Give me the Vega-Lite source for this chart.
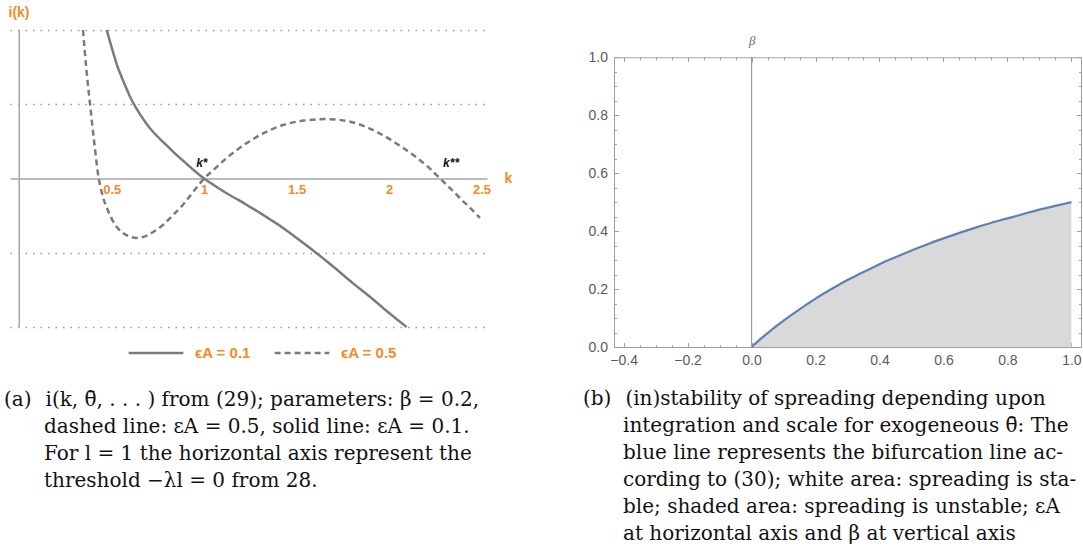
{
  "$schema": "https://vega.github.io/schema/vega-lite/v6.json",
  "background": "white",
  "padding": {"left": 4, "top": 5, "right": 0, "bottom": 0},
  "bounds": "flush",
  "spacing": 127,
  "config": {"view": {"stroke": null}},
  "hconcat": [
    {
      "width": 477,
      "height": 297,
      "title": {
        "text": [
          "(a)\u2002\u2009i(k, θ̄, . . . ) from (29); parameters: β = 0.2,",
          "\u200b\u2003\u2003dashed line: εA = 0.5, solid line: εA = 0.1.",
          "\u200b\u2003\u2003For l = 1 the horizontal axis represent the",
          "\u200b\u2003\u2003threshold −λl = 0 from 28."
        ],
        "orient": "bottom",
        "anchor": "start",
        "frame": "group",
        "dx": -6,
        "offset": 58,
        "baseline": "top",
        "font": "DejaVu Serif",
        "fontSize": 20,
        "fontWeight": "normal",
        "color": "#111111",
        "lineHeight": 27
      },
      "layer": [
        {
          "data": {"values": [
            {"k": 0.473, "i": 2.0, "s": "ϵA = 0.1"},
            {"k": 0.49, "i": 1.85, "s": "ϵA = 0.1"},
            {"k": 0.51, "i": 1.68, "s": "ϵA = 0.1"},
            {"k": 0.53, "i": 1.52, "s": "ϵA = 0.1"},
            {"k": 0.55, "i": 1.39, "s": "ϵA = 0.1"},
            {"k": 0.575, "i": 1.24, "s": "ϵA = 0.1"},
            {"k": 0.6, "i": 1.1, "s": "ϵA = 0.1"},
            {"k": 0.63, "i": 0.96, "s": "ϵA = 0.1"},
            {"k": 0.66, "i": 0.84, "s": "ϵA = 0.1"},
            {"k": 0.7, "i": 0.7, "s": "ϵA = 0.1"},
            {"k": 0.75, "i": 0.56, "s": "ϵA = 0.1"},
            {"k": 0.8, "i": 0.44, "s": "ϵA = 0.1"},
            {"k": 0.85, "i": 0.32, "s": "ϵA = 0.1"},
            {"k": 0.9, "i": 0.21, "s": "ϵA = 0.1"},
            {"k": 0.95, "i": 0.1, "s": "ϵA = 0.1"},
            {"k": 1.0, "i": 0.0, "s": "ϵA = 0.1"},
            {"k": 1.05, "i": -0.085, "s": "ϵA = 0.1"},
            {"k": 1.1, "i": -0.165, "s": "ϵA = 0.1"},
            {"k": 1.15, "i": -0.24, "s": "ϵA = 0.1"},
            {"k": 1.2, "i": -0.31, "s": "ϵA = 0.1"},
            {"k": 1.25, "i": -0.385, "s": "ϵA = 0.1"},
            {"k": 1.3, "i": -0.46, "s": "ϵA = 0.1"},
            {"k": 1.35, "i": -0.54, "s": "ϵA = 0.1"},
            {"k": 1.4, "i": -0.62, "s": "ϵA = 0.1"},
            {"k": 1.5, "i": -0.8, "s": "ϵA = 0.1"},
            {"k": 1.6, "i": -0.99, "s": "ϵA = 0.1"},
            {"k": 1.7, "i": -1.19, "s": "ϵA = 0.1"},
            {"k": 1.8, "i": -1.4, "s": "ϵA = 0.1"},
            {"k": 1.9, "i": -1.6, "s": "ϵA = 0.1"},
            {"k": 2.0, "i": -1.81, "s": "ϵA = 0.1"},
            {"k": 2.095, "i": -2.0, "s": "ϵA = 0.1"},
            {"k": 0.345, "i": 2.0, "s": "ϵA = 0.5"},
            {"k": 0.362, "i": 1.5, "s": "ϵA = 0.5"},
            {"k": 0.383, "i": 1.0, "s": "ϵA = 0.5"},
            {"k": 0.405, "i": 0.5, "s": "ϵA = 0.5"},
            {"k": 0.43, "i": 0.0, "s": "ϵA = 0.5"},
            {"k": 0.44, "i": -0.12, "s": "ϵA = 0.5"},
            {"k": 0.453, "i": -0.25, "s": "ϵA = 0.5"},
            {"k": 0.473, "i": -0.39, "s": "ϵA = 0.5"},
            {"k": 0.5, "i": -0.54, "s": "ϵA = 0.5"},
            {"k": 0.518, "i": -0.62, "s": "ϵA = 0.5"},
            {"k": 0.55, "i": -0.71, "s": "ϵA = 0.5"},
            {"k": 0.59, "i": -0.775, "s": "ϵA = 0.5"},
            {"k": 0.635, "i": -0.8, "s": "ϵA = 0.5"},
            {"k": 0.68, "i": -0.78, "s": "ϵA = 0.5"},
            {"k": 0.725, "i": -0.72, "s": "ϵA = 0.5"},
            {"k": 0.78, "i": -0.62, "s": "ϵA = 0.5"},
            {"k": 0.833, "i": -0.49, "s": "ϵA = 0.5"},
            {"k": 0.89, "i": -0.34, "s": "ϵA = 0.5"},
            {"k": 0.941, "i": -0.18, "s": "ϵA = 0.5"},
            {"k": 1.0, "i": 0.0, "s": "ϵA = 0.5"},
            {"k": 1.048, "i": 0.11, "s": "ϵA = 0.5"},
            {"k": 1.12, "i": 0.27, "s": "ϵA = 0.5"},
            {"k": 1.232, "i": 0.48, "s": "ϵA = 0.5"},
            {"k": 1.33, "i": 0.62, "s": "ϵA = 0.5"},
            {"k": 1.426, "i": 0.72, "s": "ϵA = 0.5"},
            {"k": 1.54, "i": 0.78, "s": "ϵA = 0.5"},
            {"k": 1.664, "i": 0.8, "s": "ϵA = 0.5"},
            {"k": 1.77, "i": 0.775, "s": "ϵA = 0.5"},
            {"k": 1.881, "i": 0.69, "s": "ϵA = 0.5"},
            {"k": 1.97, "i": 0.58, "s": "ϵA = 0.5"},
            {"k": 2.059, "i": 0.44, "s": "ϵA = 0.5"},
            {"k": 2.135, "i": 0.31, "s": "ϵA = 0.5"},
            {"k": 2.205, "i": 0.17, "s": "ϵA = 0.5"},
            {"k": 2.276, "i": 0.0, "s": "ϵA = 0.5"},
            {"k": 2.33, "i": -0.13, "s": "ϵA = 0.5"},
            {"k": 2.39, "i": -0.28, "s": "ϵA = 0.5"},
            {"k": 2.44, "i": -0.4, "s": "ϵA = 0.5"},
            {"k": 2.492, "i": -0.53, "s": "ϵA = 0.5"}
          ]},
          "mark": {"type": "line", "color": "#7a7a7a", "strokeWidth": 2.5, "interpolate": "monotone"},
          "encoding": {
            "x": {
              "field": "k", "type": "quantitative",
              "scale": {"domain": [-0.05, 2.53], "nice": false, "zero": false},
              "axis": {
                "orient": "bottom", "offset": -148.5,
                "values": [0.5, 1, 1.5, 2, 2.5], "format": "~g",
                "grid": false, "ticks": false,
                "domainColor": "#a6a6a6", "domainWidth": 1.6,
                "labelColor": "#f58a1f", "labelFont": "Liberation Sans", "labelFontWeight": "bold", "labelFontSize": 13, "labelPadding": 5,
                "title": "k", "titleColor": "#f58a1f", "titleFont": "Liberation Sans", "titleFontWeight": "bold", "titleFontSize": 14,
                "titleX": 498, "titleY": 0, "titleAlign": "center", "titleBaseline": "middle", "titleAngle": 0
              }
            },
            "y": {
              "field": "i", "type": "quantitative",
              "scale": {"domain": [-2, 2], "nice": false, "zero": false},
              "axis": {
                "orient": "left", "values": [-2, -1, 1, 2],
                "domain": false, "ticks": false, "labels": false,
                "grid": true, "gridDash": [1.5, 6], "gridColor": "#9a9a9a", "gridWidth": 1.3,
                "title": "i(k)", "titleColor": "#f58a1f", "titleFont": "Liberation Sans", "titleFontWeight": "bold", "titleFontSize": 14,
                "titleAngle": 0, "titleX": -2, "titleY": -14, "titleAlign": "left", "titleBaseline": "alphabetic"
              }
            },
            "strokeDash": {
              "field": "s", "type": "nominal",
              "scale": {"domain": ["ϵA = 0.1", "ϵA = 0.5"], "range": [[1, 0], [6, 4]]},
              "legend": {
                "orient": "none", "legendX": 117, "legendY": 294, "direction": "horizontal",
                "title": null, "padding": 0,
                "symbolType": "stroke", "symbolSize": 3000, "symbolStrokeWidth": 2.6, "symbolStrokeColor": "#7a7a7a",
                "labelColor": "#f58a1f", "labelFont": "Liberation Sans", "labelFontWeight": "bold", "labelFontSize": 15,
                "labelOffset": 10, "columnPadding": 18
              }
            }
          }
        },
        {
          "data": {"values": [{"k": 0}]},
          "mark": {"type": "rule", "color": "#a6a6a6", "strokeWidth": 1.5},
          "encoding": {"x": {"field": "k", "type": "quantitative"}}
        },
        {
          "data": {"values": [{"k": 1.0, "i": 0, "t": "k*"}]},
          "mark": {"type": "text", "font": "Liberation Sans", "fontStyle": "italic", "fontWeight": "bold", "fontSize": 12, "color": "#111111", "align": "left", "baseline": "alphabetic", "dx": -8, "dy": -11.5},
          "encoding": {
            "x": {"field": "k", "type": "quantitative"},
            "y": {"field": "i", "type": "quantitative"},
            "text": {"field": "t"}
          }
        },
        {
          "data": {"values": [{"k": 2.276, "i": 0, "t": "k**"}]},
          "mark": {"type": "text", "font": "Liberation Sans", "fontStyle": "italic", "fontWeight": "bold", "fontSize": 12, "color": "#111111", "align": "left", "baseline": "alphabetic", "dx": 3, "dy": -11.5},
          "encoding": {
            "x": {"field": "k", "type": "quantitative"},
            "y": {"field": "i", "type": "quantitative"},
            "text": {"field": "t"}
          }
        }
      ]
    },
    {
      "width": 467,
      "height": 317,
      "title": {
        "text": [
          "(b)\u2002\u2009(in)stability of spreading depending upon",
          "\u200b\u2003\u2003integration and scale for exogeneous θ̄: The",
          "\u200b\u2003\u2003blue line represents the bifurcation line ac-",
          "\u200b\u2003\u2003cording to (30); white area: spreading is sta-",
          "\u200b\u2003\u2003ble; shaded area: spreading is unstable; εA",
          "\u200b\u2003\u2003at horizontal axis and β at vertical axis"
        ],
        "orient": "bottom",
        "anchor": "start",
        "frame": "group",
        "dx": -31,
        "offset": 19,
        "baseline": "top",
        "font": "DejaVu Serif",
        "fontSize": 20,
        "fontWeight": "normal",
        "color": "#111111",
        "lineHeight": 27
      },
      "resolve": {"axis": {"x": "independent", "y": "independent"}},
      "layer": [
        {
          "data": {"name": "curve", "values": [
            {"e": 0.0, "b": 0.0}, {"e": 0.05, "b": 0.048}, {"e": 0.1, "b": 0.091}, {"e": 0.15, "b": 0.13},
            {"e": 0.2, "b": 0.167}, {"e": 0.25, "b": 0.2}, {"e": 0.3, "b": 0.231}, {"e": 0.35, "b": 0.259},
            {"e": 0.4, "b": 0.286}, {"e": 0.45, "b": 0.31}, {"e": 0.5, "b": 0.333}, {"e": 0.55, "b": 0.355},
            {"e": 0.6, "b": 0.375}, {"e": 0.65, "b": 0.394}, {"e": 0.7, "b": 0.412}, {"e": 0.75, "b": 0.429},
            {"e": 0.8, "b": 0.444}, {"e": 0.85, "b": 0.459}, {"e": 0.9, "b": 0.474}, {"e": 0.95, "b": 0.487},
            {"e": 1.0, "b": 0.5}
          ]},
          "mark": {"type": "area", "color": "#d9d9d9", "interpolate": "monotone"},
          "encoding": {
            "x": {
              "field": "e", "type": "quantitative",
              "scale": {"domain": [-0.43, 1.03], "nice": false, "zero": false},
              "axis": {
                "orient": "bottom", "title": null, "grid": false,
                "values": [-0.4, -0.35, -0.3, -0.25, -0.2, -0.15, -0.1, -0.05, 0, 0.05, 0.1, 0.15, 0.2, 0.25, 0.3, 0.35, 0.4, 0.45, 0.5, 0.55, 0.6, 0.65, 0.7, 0.75, 0.8, 0.85, 0.9, 0.95, 1.0],
                "labelExpr": "abs(datum.value*5 - round(datum.value*5)) < 0.000001 ? format(datum.value, '.1f') : ''",
                "tickSize": {"condition": {"test": "abs(datum.value*5 - round(datum.value*5)) < 0.000001", "value": -4.5}, "value": -2.5},
                "tickColor": "#a0a0a0", "domainColor": "#a0a0a0", "tickWidth": 1, "domainWidth": 1,
                "labelColor": "#5a5a5a", "labelFont": "Liberation Sans", "labelFontSize": 14, "labelPadding": 11, "labelFlush": false, "labelOverlap": false
              }
            },
            "y": {
              "field": "b", "type": "quantitative",
              "scale": {"domain": [0, 1], "nice": false, "zero": false, "range": [317, 27.3]},
              "axis": {
                "orient": "left", "title": null, "grid": false,
                "values": [0, 0.05, 0.1, 0.15, 0.2, 0.25, 0.3, 0.35, 0.4, 0.45, 0.5, 0.55, 0.6, 0.65, 0.7, 0.75, 0.8, 0.85, 0.9, 0.95, 1.0],
                "labelExpr": "abs(datum.value*5 - round(datum.value*5)) < 0.000001 ? format(datum.value, '.1f') : ''",
                "tickSize": {"condition": {"test": "abs(datum.value*5 - round(datum.value*5)) < 0.000001", "value": -4.5}, "value": -2.5},
                "tickColor": "#a0a0a0", "domainColor": "#a0a0a0", "tickWidth": 1, "domainWidth": 1,
                "labelColor": "#5a5a5a", "labelFont": "Liberation Sans", "labelFontSize": 14, "labelPadding": 11, "labelFlush": false, "labelOverlap": false
              }
            }
          }
        },
        {
          "data": {"name": "curve"},
          "mark": {"type": "line", "color": "#5e81b5", "strokeWidth": 2.2, "interpolate": "monotone"},
          "encoding": {
            "x": {
              "field": "e", "type": "quantitative",
              "scale": {"domain": [-0.43, 1.03], "nice": false, "zero": false},
              "axis": {
                "orient": "top", "offset": -27.3, "grid": false, "labels": false,
                "values": [-0.4, -0.35, -0.3, -0.25, -0.2, -0.15, -0.1, -0.05, 0, 0.05, 0.1, 0.15, 0.2, 0.25, 0.3, 0.35, 0.4, 0.45, 0.5, 0.55, 0.6, 0.65, 0.7, 0.75, 0.8, 0.85, 0.9, 0.95, 1.0],
                "tickSize": {"condition": {"test": "abs(datum.value*5 - round(datum.value*5)) < 0.000001", "value": -4.5}, "value": -2.5},
                "tickColor": "#a0a0a0", "domainColor": "#a0a0a0", "tickWidth": 1, "domainWidth": 1,
                "title": "β", "titleColor": "#666666", "titleFont": "Liberation Serif", "titleFontStyle": "italic", "titleFontWeight": "normal", "titleFontSize": 13,
                "titleX": 137.7, "titleY": -12.5, "titleAlign": "center", "titleBaseline": "alphabetic", "titleAngle": 0
              }
            },
            "y": {
              "field": "b", "type": "quantitative",
              "scale": {"domain": [0, 1], "nice": false, "zero": false, "range": [317, 27.3]},
              "axis": {
                "orient": "right", "title": null, "grid": false, "labels": false,
                "values": [0, 0.05, 0.1, 0.15, 0.2, 0.25, 0.3, 0.35, 0.4, 0.45, 0.5, 0.55, 0.6, 0.65, 0.7, 0.75, 0.8, 0.85, 0.9, 0.95, 1.0],
                "tickSize": {"condition": {"test": "abs(datum.value*5 - round(datum.value*5)) < 0.000001", "value": -4.5}, "value": -2.5},
                "tickColor": "#a0a0a0", "domainColor": "#a0a0a0", "tickWidth": 1, "domainWidth": 1
              }
            }
          }
        },
        {
          "data": {"values": [{"e": 0, "b0": 0, "b1": 1}]},
          "mark": {"type": "rule", "color": "#9a9a9a", "strokeWidth": 1.2},
          "encoding": {
            "x": {"field": "e", "type": "quantitative", "axis": null},
            "y": {"field": "b0", "type": "quantitative", "axis": null},
            "y2": {"field": "b1"}
          }
        }
      ]
    }
  ]
}
